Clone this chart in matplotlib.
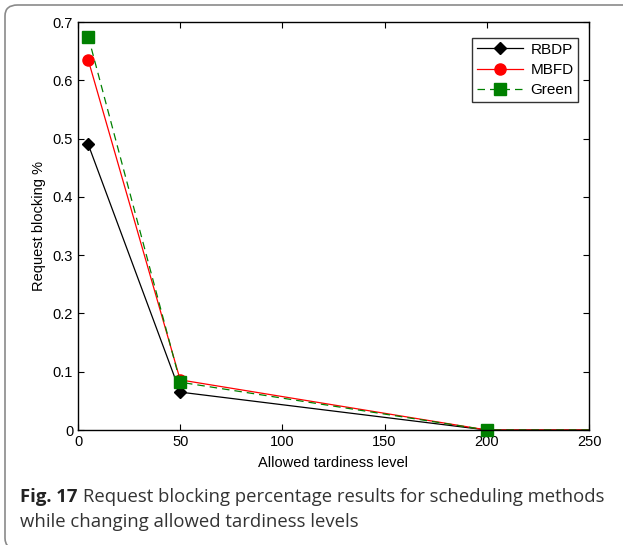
import matplotlib
matplotlib.use("Agg")
import matplotlib.pyplot as plt
from matplotlib.patches import FancyBboxPatch

x = [5, 50, 200, 250]
rbdp = [0.49, 0.065, 0.0, 0.0]
mbfd = [0.635, 0.086, 0.0, 0.0]
green = [0.675, 0.082, 0.0, 0.0]
xticks = [0, 50, 100, 150, 200, 250]
yticks = [0, 0.1, 0.2, 0.3, 0.4, 0.5, 0.6, 0.7]

W, H = 623, 545
fig = plt.figure(figsize=(W / 100, H / 100), dpi=100)

# outer frame
frame = FancyBboxPatch((5 / W, -4 / H), 700 / W, 544 / H,
                       boxstyle="round,pad=0,rounding_size=0.02",
                       transform=fig.transFigure, fill=False,
                       edgecolor="#8a8a8a", linewidth=1.2, clip_on=False)
fig.patches.append(frame)

ax = fig.add_axes([78 / W, 1 - 430 / H, (589 - 78) / W, (430 - 22) / H])
tf = ["Liberation Sans", "DejaVu Sans"]

ax.plot(x, rbdp, color="black", lw=0.9, marker="D", ms=6.5, markevery=[0, 1, 2],
        label="RBDP", clip_on=False)
ax.plot(x, mbfd, color="red", lw=0.9, marker="o", ms=8, markevery=[0, 1, 2],
        label="MBFD", clip_on=False)
ax.plot(x, green, color="green", lw=0.9, ls=(0, (6, 4)), marker="s", ms=8,
        markevery=[0, 1, 2], label="Green", clip_on=False)

ax.set_xlim(0, 250)
ax.set_ylim(0, 0.7)
ax.set_xticks(xticks)
ax.set_yticks(yticks)
ax.set_xticklabels([str(v) for v in xticks], family=tf, fontsize=10.5)
ax.set_yticklabels(["0"] + [f"{v:.1f}" for v in yticks[1:]], family=tf, fontsize=10.5)
ax.tick_params(direction="in", top=True, right=True, length=4, width=0.8)
for s in ax.spines.values():
    s.set_linewidth(1.0)
ax.set_xlabel("Allowed tardiness level", family=tf, fontsize=10.5, labelpad=5)
ax.set_ylabel("Request blocking %", family=tf, fontsize=10.5, labelpad=5)

leg = ax.legend(loc="upper right", prop={"family": tf, "size": 11},
                frameon=True, fancybox=False, edgecolor="black",
                bbox_to_anchor=(1 - 11 / 511, 1 - 16 / 408),
                borderaxespad=0, handlelength=3.0, labelspacing=0.42,
                borderpad=0.3, handletextpad=0.5)
leg.get_frame().set_linewidth(1.0)

cf = ["Open Sans", "DejaVu Sans"]
t1 = fig.text(20 / W, 1 - 497 / H, "Fig. 17", family=cf, fontweight="bold",
              fontsize=13.3, va="center", color="#222222")
fig.canvas.draw()
bb = t1.get_window_extent()
fig.text(bb.x1 / W + 5 / W, 1 - 497 / H,
         "Request blocking percentage results for scheduling methods",
         family=cf, fontsize=13.3, va="center", color="#333333")
fig.text(20 / W, 1 - 522 / H, "while changing allowed tardiness levels",
         family=cf, fontsize=13.3, va="center", color="#333333")

fig.savefig("out.png", dpi=100)
